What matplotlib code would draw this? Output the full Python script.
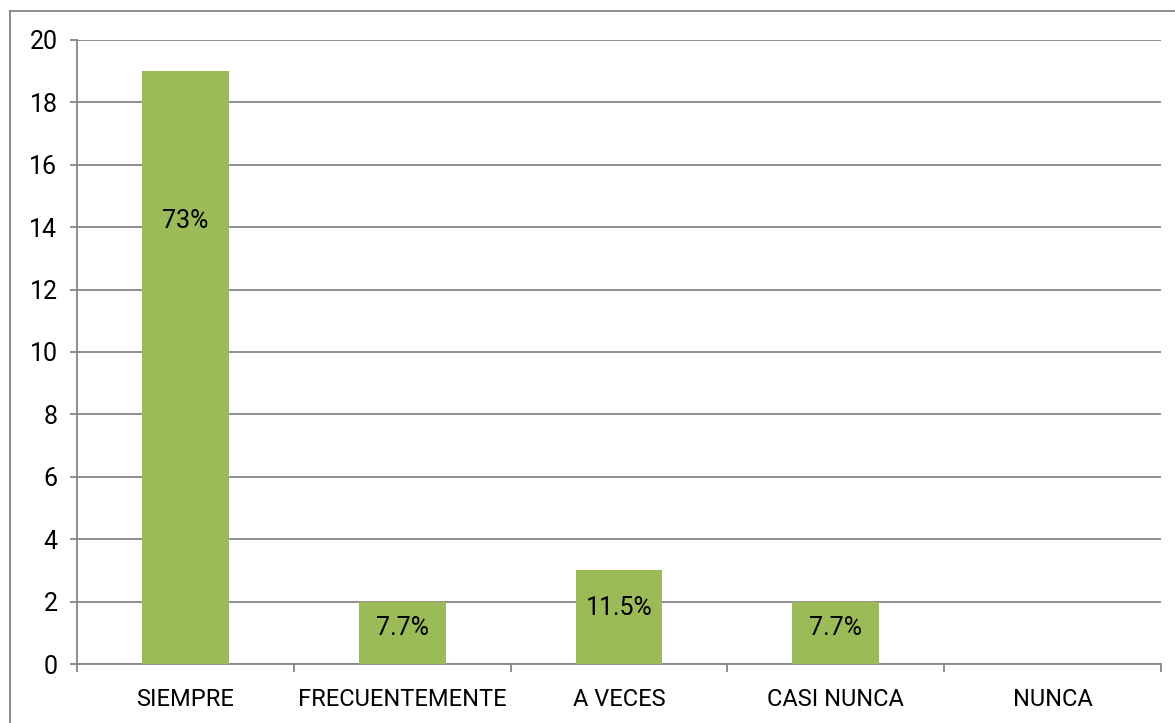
import matplotlib
matplotlib.use("Agg")
import matplotlib.pyplot as plt
from matplotlib.lines import Line2D
import numpy as np

categories = ["SIEMPRE", "FRECUENTEMENTE", "A VECES", "CASI NUNCA", "NUNCA"]
counts = [19, 2, 3, 2, 0]
pct_labels = ["73%", "7.7%", "11.5%", "7.7%", ""]
# height (in data units) where each percentage label sits inside its bar
label_heights = [14.2, 1.15, 1.8, 1.15, 0]

BAR_COLOR = "#9BBB59"
GRID_COLOR = "#868686"
FONT_SIZE = 18

plt.rcParams["font.family"] = ["Roboto", "Liberation Sans", "DejaVu Sans"]

fig = plt.figure(figsize=(11.75, 7.23), dpi=100)
ax = fig.add_axes([77 / 1175, 59 / 723, (1161 - 77) / 1175, (664 - 40) / 723])

x = np.arange(len(categories))
ax.bar(x, counts, width=0.4, color=BAR_COLOR, zorder=3)
for xi, lab, h in zip(x, pct_labels, label_heights):
    if lab:
        ax.text(xi, h, lab, ha="center", va="center", fontsize=FONT_SIZE, color="black", zorder=4)

ax.set_xlim(-0.5, len(categories) - 0.5)
ax.set_ylim(0, 20)
ax.set_yticks(np.arange(0, 21, 2))
ax.set_xticks(x)
ax.set_xticklabels(categories)
ax.set_xticks(np.arange(-0.5, len(categories), 1.0), minor=True)

ax.yaxis.grid(True, color=GRID_COLOR, linewidth=1.3, zorder=0)
ax.set_axisbelow(True)
for side in ("top", "right"):
    ax.spines[side].set_visible(False)
for side in ("left", "bottom"):
    ax.spines[side].set_color(GRID_COLOR)
    ax.spines[side].set_linewidth(1.3)

ax.tick_params(axis="y", length=5, width=1.3, color=GRID_COLOR, pad=9, labelsize=FONT_SIZE)
ax.tick_params(axis="x", which="major", length=0, pad=17, labelsize=17)
ax.tick_params(axis="x", which="minor", length=6, width=1.3, color=GRID_COLOR)

# chart area border (top and left visible)
fig.add_artist(Line2D([9.5 / 1175, 9.5 / 1175], [0, 1 - 11 / 723], transform=fig.transFigure,
                      color=GRID_COLOR, linewidth=1.3))
fig.add_artist(Line2D([9.5 / 1175, 1], [1 - 11 / 723, 1 - 11 / 723], transform=fig.transFigure,
                      color=GRID_COLOR, linewidth=1.3))

fig.savefig("out.png", dpi=100)
